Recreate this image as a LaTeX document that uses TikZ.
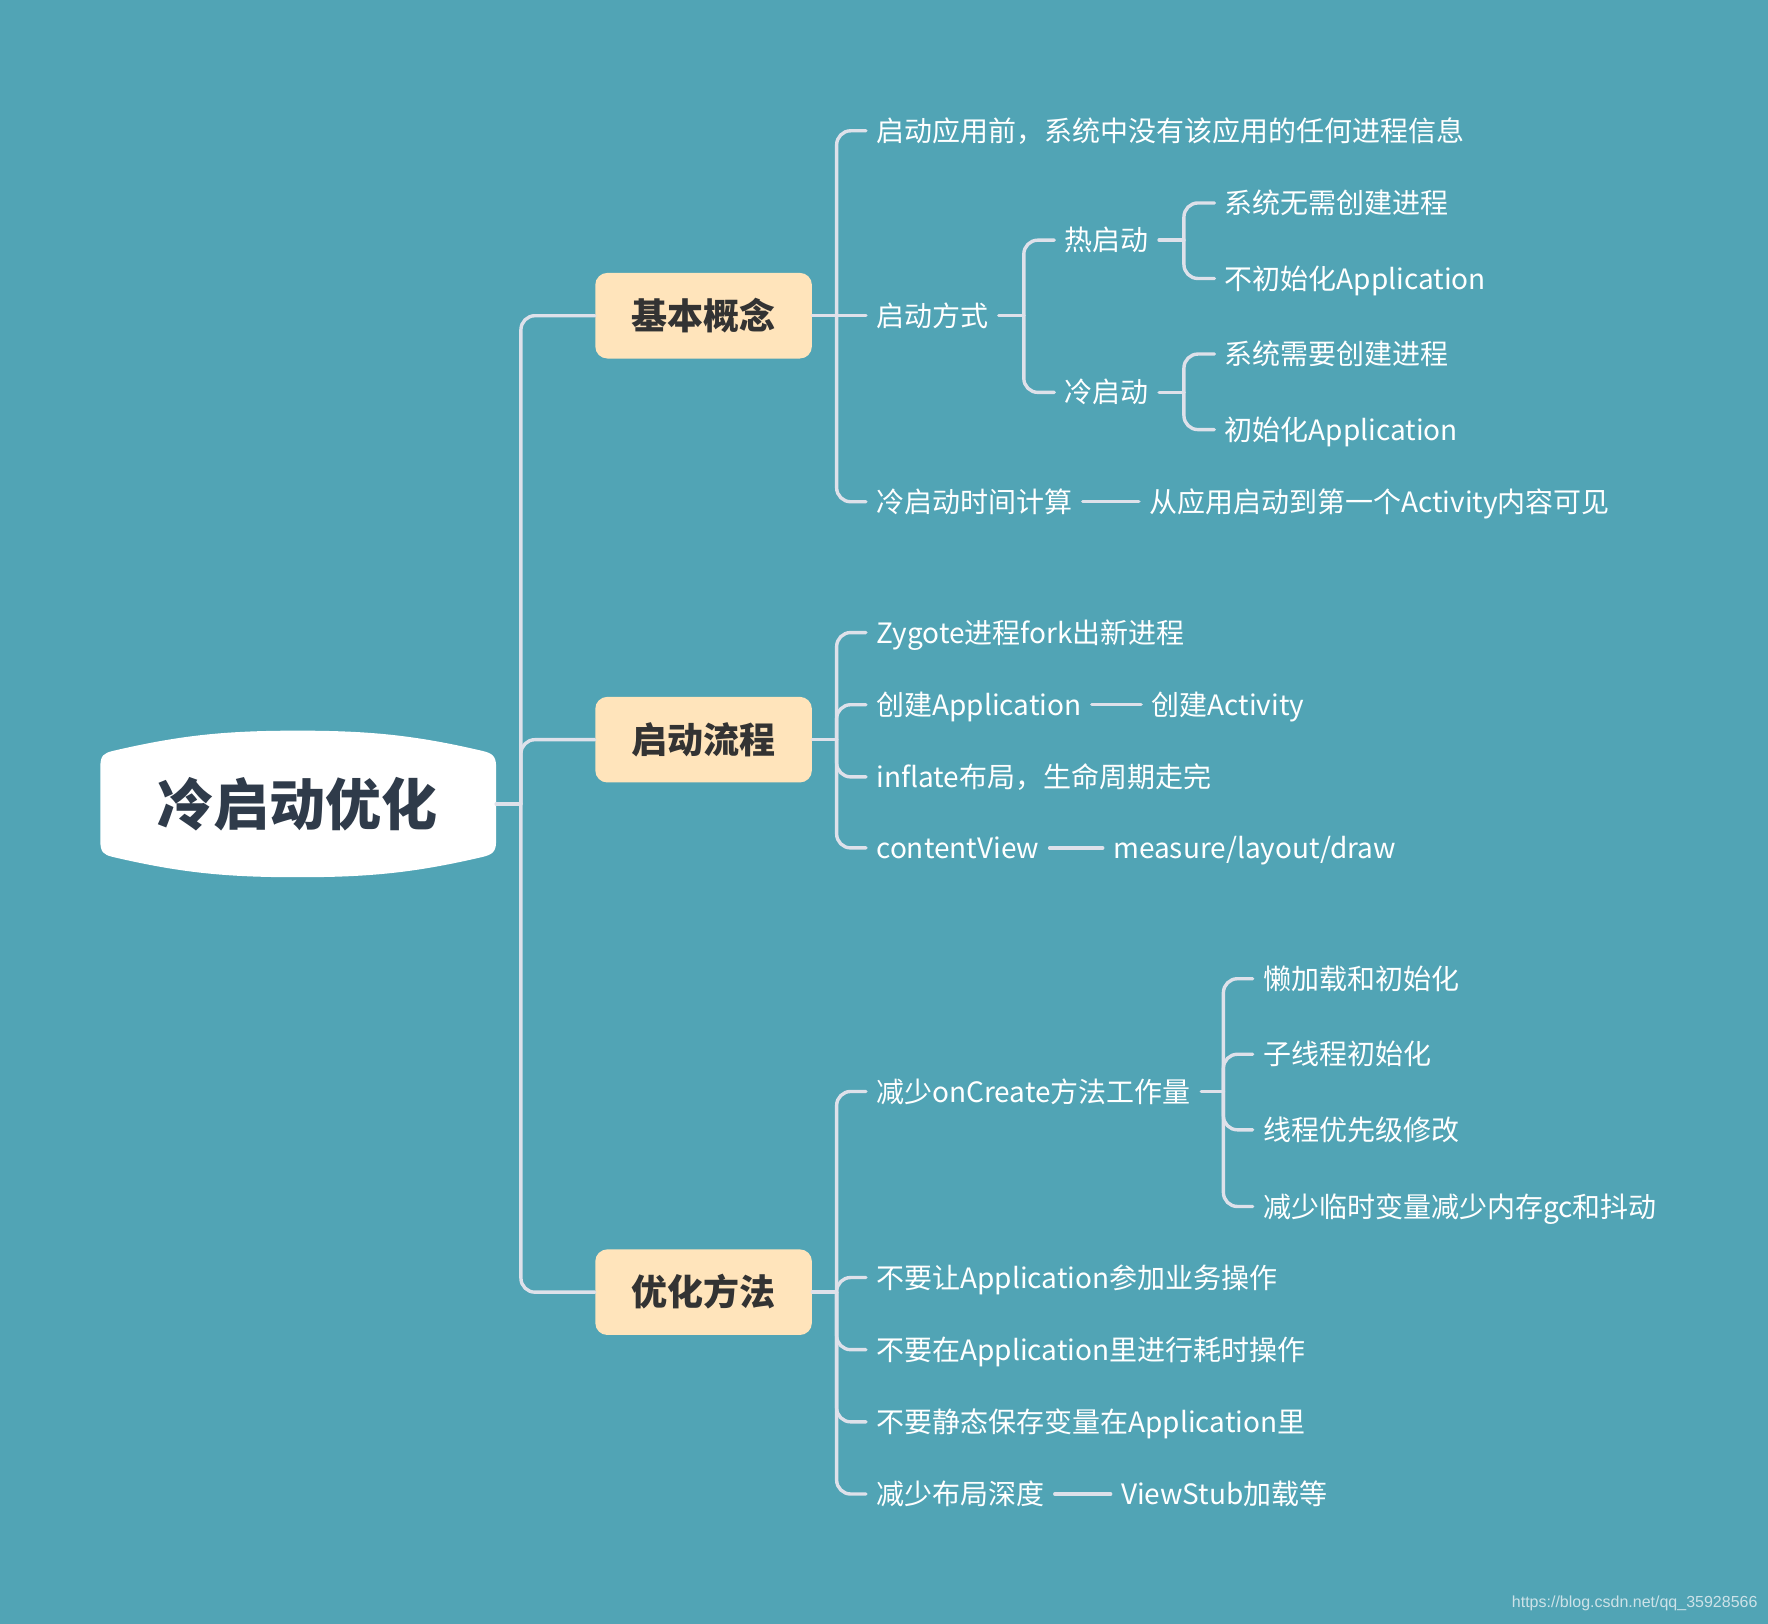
\documentclass[tikz,border=0pt]{standalone}
\usepackage{fontspec}
\setmainfont{Noto Sans CJK SC}
\newfontfamily\wmfont{Liberation Sans}
\definecolor{bg}{RGB}{81,164,181}
\definecolor{linec}{RGB}{222,225,234}
\definecolor{peach}{RGB}{255,228,187}
\definecolor{btext}{RGB}{51,51,51}
\definecolor{rtext}{RGB}{47,59,74}
\definecolor{wmc}{RGB}{205,226,232}
\begin{document}
\begin{tikzpicture}[x=0.5638pt,y=-0.5638pt,
  conn/.style={draw=linec, line width=1.7pt, rounded corners=7pt, line cap=round},
  leaf/.style={anchor=west, text=white, font=\fontsize{14}{16}\selectfont,
    inner xsep=5pt, inner ysep=0pt, text height=12.3pt, text depth=1.7pt},
  bnode/.style={rectangle, rounded corners=6pt, fill=peach, text=btext,
    minimum width=108.3pt, minimum height=42.8pt, inner sep=0pt,
    font=\bfseries\fontsize{18}{20}\selectfont, text height=15.8pt, text depth=2.2pt}]
\useasboundingbox (0,0) rectangle (1568,1440);
\fill[bg] (0,0) rectangle (1568,1440);

% root
\fill[white] (89,680) .. controls (89,670) and (92,668) .. (100,666)
  .. controls (160,652) and (200,648) .. (264,648)
  .. controls (328,648) and (368,652) .. (428,666)
  .. controls (436,668) and (440,670) .. (440,680) -- (440,746)
  .. controls (440,756) and (436,758) .. (428,760)
  .. controls (368,774) and (328,778) .. (264,778)
  .. controls (200,778) and (160,774) .. (100,760)
  .. controls (92,758) and (89,756) .. (89,746) -- cycle;
\node[text=rtext, font=\bfseries\fontsize{28}{32}\selectfont, inner sep=0pt,
  text height=24.6pt, text depth=3.4pt] (root) at (264,713) {冷启动优化};
\coordinate (rootE) at (440,713);
\coordinate (f0) at (462,713);

% branches
\node[bnode] (b1) at (624,280) {基本概念};
\node[bnode] (b2) at (624,656) {启动流程};
\node[bnode] (b3) at (624,1146) {优化方法};
\draw[conn] (rootE) -- (f0);
\foreach \n in {b1,b2,b3} \draw[conn] (f0) |- (\n.west);

% branch 1
\node[leaf] (a1) at (768,116) {启动应用前，系统中没有该应用的任何进程信息};
\node[leaf] (a2) at (768,280) {启动方式};
\node[leaf] (a3) at (768,445) {冷启动时间计算};
\coordinate (f1) at (742,280);
\draw[conn] (b1.east) -- (a2.west);
\draw[conn] (f1) |- (a1.west);
\draw[conn] (f1) |- (a3.west);

\node[leaf] (h1) at (935,213) {热启动};
\node[leaf] (h2) at (935,348) {冷启动};
\coordinate (f2) at (908,280);
\draw[conn] (a2.east) -- (f2);
\draw[conn] (f2) |- (h1.west);
\draw[conn] (f2) |- (h2.west);

\node[leaf] (l1) at (1077,180) {系统无需创建进程};
\node[leaf] (l2) at (1077,247) {不初始化Application};
\coordinate (f3) at (1050,213);
\draw[conn] (h1.east) -- (f3);
\draw[conn] (f3) |- (l1.west);
\draw[conn] (f3) |- (l2.west);

\node[leaf] (l3) at (1077,314) {系统需要创建进程};
\node[leaf] (l4) at (1077,381) {初始化Application};
\coordinate (f4) at (1050,348);
\draw[conn] (h2.east) -- (f4);
\draw[conn] (f4) |- (l3.west);
\draw[conn] (f4) |- (l4.west);

\node[leaf] (t1) at (1010,445) {从应用启动到第一个Activity内容可见};
\draw[conn] (a3.east) -- (t1.west);

% branch 2
\node[leaf] (z1) at (768,561) {Zygote进程fork出新进程};
\node[leaf] (z2) at (768,625) {创建Application};
\node[leaf] (z3) at (768,689) {inflate布局，生命周期走完};
\node[leaf] (z4) at (768,752) {contentView};
\coordinate (f5) at (742,656);
\draw[conn] (b2.east) -- (f5);
\foreach \n in {z1,z2,z3,z4} \draw[conn] (f5) |- (\n.west);
\node[leaf] (z2b) at (1012,625) {创建Activity};
\draw[conn] (z2.east) -- (z2b.west);
\node[leaf] (z4b) at (978,752) {measure/layout/draw};
\draw[conn] (z4.east) -- (z4b.west);

% branch 3
\node[leaf] (o1) at (768,968) {减少onCreate方法工作量};
\node[leaf] (o2) at (768,1133) {不要让Application参加业务操作};
\node[leaf] (o3) at (768,1197) {不要在Application里进行耗时操作};
\node[leaf] (o4) at (768,1261) {不要静态保存变量在Application里};
\node[leaf] (o5) at (768,1325) {减少布局深度};
\coordinate (f6) at (742,1146);
\draw[conn] (b3.east) -- (f6);
\foreach \n in {o1,o2,o3,o4,o5} \draw[conn] (f6) |- (\n.west);

\node[leaf] (p1) at (1111,868) {懒加载和初始化};
\node[leaf] (p2) at (1111,935) {子线程初始化};
\node[leaf] (p3) at (1111,1002) {线程优先级修改};
\node[leaf] (p4) at (1111,1070) {减少临时变量减少内存gc和抖动};
\coordinate (f7) at (1085,968);
\draw[conn] (o1.east) -- (f7);
\foreach \n in {p1,p2,p3,p4} \draw[conn] (f7) |- (\n.west);

\node[leaf] (o5b) at (985,1325) {ViewStub加载等};
\draw[conn] (o5.east) -- (o5b.west);

% watermark
\node[anchor=east, inner sep=0pt, text=wmc, font=\wmfont\fontsize{8}{9.5}\selectfont] (wm) at (1559,1422) {https://blog.csdn.net/qq\_35928566};
\end{tikzpicture}
\end{document}
